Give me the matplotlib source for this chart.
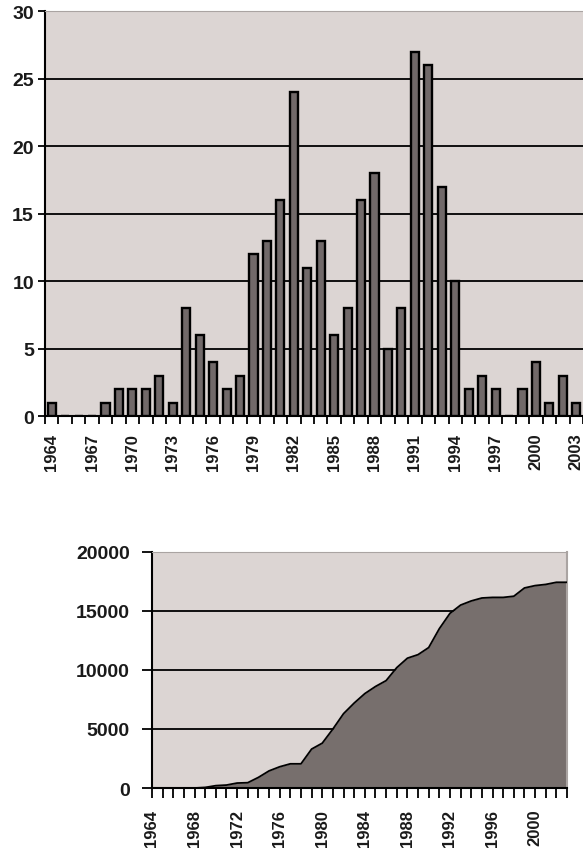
import matplotlib.pyplot as plt

plt.rcParams['font.family'] = ['Liberation Sans', 'DejaVu Sans']

years = list(range(1964, 2004))

# yearly counts (top chart)
counts = [1, 0, 0, 0, 1, 2, 2, 2, 3, 1,
          8, 6, 4, 2, 3, 12, 13, 16, 24, 11,
          13, 6, 8, 16, 18, 5, 8, 27, 26, 17,
          10, 2, 3, 2, 0, 2, 4, 1, 3, 1]

# cumulative total (bottom chart)
cumulative = [0, 0, 0, 0, 0, 50, 200, 250, 420, 450,
              900, 1450, 1800, 2050, 2050, 3300, 3800, 5000, 6300, 7200,
              8000, 8600, 9100, 10200, 11000, 11300, 11900, 13500, 14800, 15500,
              15850, 16100, 16150, 16150, 16250, 16950, 17150, 17250, 17430, 17430]

top_ticks = [0, 5, 10, 15, 20, 25, 30]
bottom_ticks = [0, 5000, 10000, 15000, 20000]

BG = '#dcd5d3'
BAR = '#716969'
AREA = '#776f6d'
FRAME = '#aaa4a2'
TXT = '#1a1a1a'

fig = plt.figure(figsize=(5.83, 8.54), dpi=100)

# ---- top: bar chart ----
ax1 = fig.add_axes([0.0772, 0.5117, 0.9228, 0.4742])
ax1.set_facecolor(BG)
x = list(range(len(years)))
ax1.bar(x, counts, width=0.6, color=BAR, edgecolor='black', linewidth=1.7, zorder=3)
for v in top_ticks[1:-1]:
    ax1.axhline(v, color='black', linewidth=1.3, zorder=1)
ax1.set_xlim(-0.5, len(years) - 0.5)
ax1.set_ylim(0, 30)
ax1.set_yticks(top_ticks)
ax1.set_yticklabels([str(t) for t in top_ticks], fontsize=14, fontweight='bold', color=TXT)
ax1.set_xticks([i - 0.5 for i in range(len(years) + 1)])
ax1.set_xticklabels([])
ax1.set_xticks(x[::3], minor=True)
ax1.set_xticklabels([str(years[i]) for i in x[::3]], minor=True, rotation=90,
                    fontsize=12, fontweight='bold', color=TXT)
ax1.tick_params(axis='x', which='major', direction='out', length=6, width=1.3)
ax1.tick_params(axis='x', which='minor', length=0, pad=12)
ax1.tick_params(axis='y', direction='out', length=5, width=1.3, pad=3)
ax1.spines['left'].set_linewidth(1.5)
ax1.spines['bottom'].set_linewidth(1.5)
ax1.spines['top'].set_color(FRAME)
ax1.spines['right'].set_visible(False)

# ---- bottom: cumulative area chart ----
ax2 = fig.add_axes([0.2607, 0.0761, 0.7119, 0.2764])
ax2.set_facecolor(BG)
for v in bottom_ticks[1:-1]:
    ax2.axhline(v, color='black', linewidth=1.3, zorder=1)
ax2.fill_between(x, cumulative, 0, color=AREA, linewidth=0, zorder=2)
ax2.plot(x, cumulative, color='black', linewidth=1.3, zorder=3)
ax2.set_xlim(0, len(years) - 1)
ax2.set_ylim(0, 20000)
ax2.set_yticks(bottom_ticks)
ax2.set_yticklabels([str(t) for t in bottom_ticks], fontsize=14, fontweight='bold', color=TXT)
ax2.set_xticks(x)
ax2.set_xticklabels([str(years[i]) if i % 4 == 0 else '' for i in x], rotation=90,
                    fontsize=12, fontweight='bold', color=TXT)
ax2.tick_params(axis='x', direction='out', length=7, width=1.3, pad=8)
ax2.tick_params(axis='y', direction='out', length=7, width=1.3, pad=9)
ax2.spines['left'].set_linewidth(1.5)
ax2.spines['bottom'].set_linewidth(1.5)
ax2.spines['top'].set_color(FRAME)
ax2.spines['right'].set_color(FRAME)
ax2.spines['right'].set_linewidth(1.5)

fig.savefig('out.png', dpi=100)
